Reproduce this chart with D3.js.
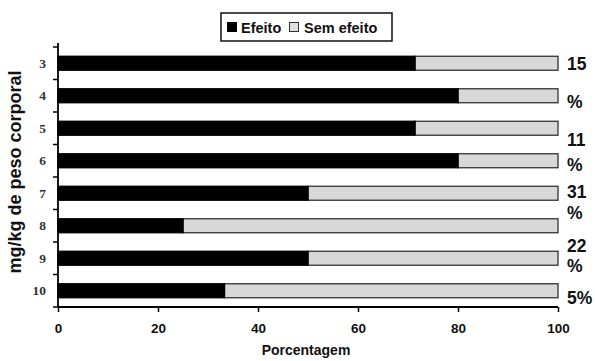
<!DOCTYPE html>
<html><head><meta charset="utf-8">
<script src="https://cdn.jsdelivr.net/npm/d3@7"></script>
<style>body{margin:0;background:#fff}svg{display:block}</style>
</head><body>
<svg id="c" width="595" height="361"></svg>
<script>
const categories = ["3","4","5","6","7","8","9","10"];
const efeito = [71.4, 80, 71.4, 80, 50, 25, 50, 33.3];
const semEfeito = efeito.map(v => 100 - v);
const xTicks = [0,20,40,60,80,100];
// side annotation texts with their centre heights
const sideLabels = [["15",63],["%",101],["11",139],["%",164],["31",191.5],["%",212.5],["22",245],["%",265.5],["5%",297]];

const svg = d3.select("#c");
const m = {l:58, r:558, t:47, b:307};
const x = d3.scaleLinear().domain([0,100]).range([m.l, m.r]);
const y = d3.scaleBand().domain(categories).range([m.t, m.b]).paddingInner(0.57).paddingOuter(0.285);
const yb = d3.scaleBand().domain(categories).range([m.t, m.b]);
const sans = "Liberation Sans, Arial, sans-serif";

const g = svg.append("g");
categories.forEach((c,i) => {
  g.append("rect").attr("x", x(efeito[i])).attr("y", y(c)).attr("width", x(100)-x(efeito[i])).attr("height", y.bandwidth())
    .attr("fill","#d8d8d8").attr("stroke","#333").attr("stroke-width",1.3);
  g.append("rect").attr("x", x(0)).attr("y", y(c)).attr("width", x(efeito[i])-x(0)).attr("height", y.bandwidth())
    .attr("fill","#000").attr("stroke","#000").attr("stroke-width",1.3);
});

// y axis
svg.append("line").attr("x1",m.l).attr("x2",m.l).attr("y1",m.t-4).attr("y2",m.b).attr("stroke","#000").attr("stroke-width",1.8);
d3.range(categories.length+1).forEach(i => {
  const yy = m.t + i*yb.bandwidth();
  svg.append("line").attr("x1",m.l-5).attr("x2",m.l).attr("y1",yy).attr("y2",yy).attr("stroke","#000").attr("stroke-width",1.5);
});
categories.forEach(c => {
  svg.append("text").attr("x", 46).attr("y", yb(c)+yb.bandwidth()/2+4.5).attr("text-anchor","end")
    .attr("font-family","Liberation Serif, Times New Roman, serif").attr("font-weight","bold").attr("font-size",13.5).attr("fill","#333").text(c);
});

// x axis
const xa = svg.append("g").attr("transform",`translate(0,${m.b})`)
  .call(d3.axisBottom(x).tickValues(xTicks).tickSize(5).tickSizeOuter(0));
xa.select(".domain").attr("stroke-width",1.8).attr("d",`M${m.l},0H${m.r}`);
xa.selectAll(".tick line").attr("stroke-width",1.5);
xa.selectAll(".tick text").attr("font-family",sans).attr("font-weight","bold").attr("font-size",13.5).attr("y",26).attr("dy",0).attr("fill","#111");

// titles
svg.append("text").attr("x",306).attr("y",355).attr("text-anchor","middle")
  .attr("font-family",sans).attr("font-weight","bold").attr("font-size",14).attr("fill","#111").text("Porcentagem");
svg.append("text").attr("transform","translate(21,172) rotate(-90)").attr("text-anchor","middle")
  .attr("font-family",sans).attr("font-weight","bold").attr("font-size",18).attr("fill","#111").text("mg/kg de peso corporal");

// side labels
sideLabels.forEach(([s,yy]) => {
  svg.append("text").attr("x",567).attr("y",yy+6.5).attr("font-family",sans)
    .attr("font-weight","bold").attr("font-size",17.5).attr("fill","#111").text(s);
});

// legend
const lg = svg.append("g");
lg.append("rect").attr("x",221).attr("y",13).attr("width",171).attr("height",28).attr("fill","#fff").attr("stroke","#111").attr("stroke-width",1.5);
lg.append("rect").attr("x",227).attr("y",22).attr("width",10).attr("height",10).attr("fill","#000");
lg.append("text").attr("x",241).attr("y",32.5).attr("font-family",sans).attr("font-weight","bold").attr("font-size",14.5).attr("fill","#111").text("Efeito");
lg.append("rect").attr("x",289.5).attr("y",22.5).attr("width",9).attr("height",9).attr("fill","#e0e0e0").attr("stroke","#333").attr("stroke-width",1);
lg.append("text").attr("x",304).attr("y",32.5).attr("font-family",sans).attr("font-weight","bold").attr("font-size",14.5).attr("fill","#111").text("Sem efeito");
</script>
</body></html>
